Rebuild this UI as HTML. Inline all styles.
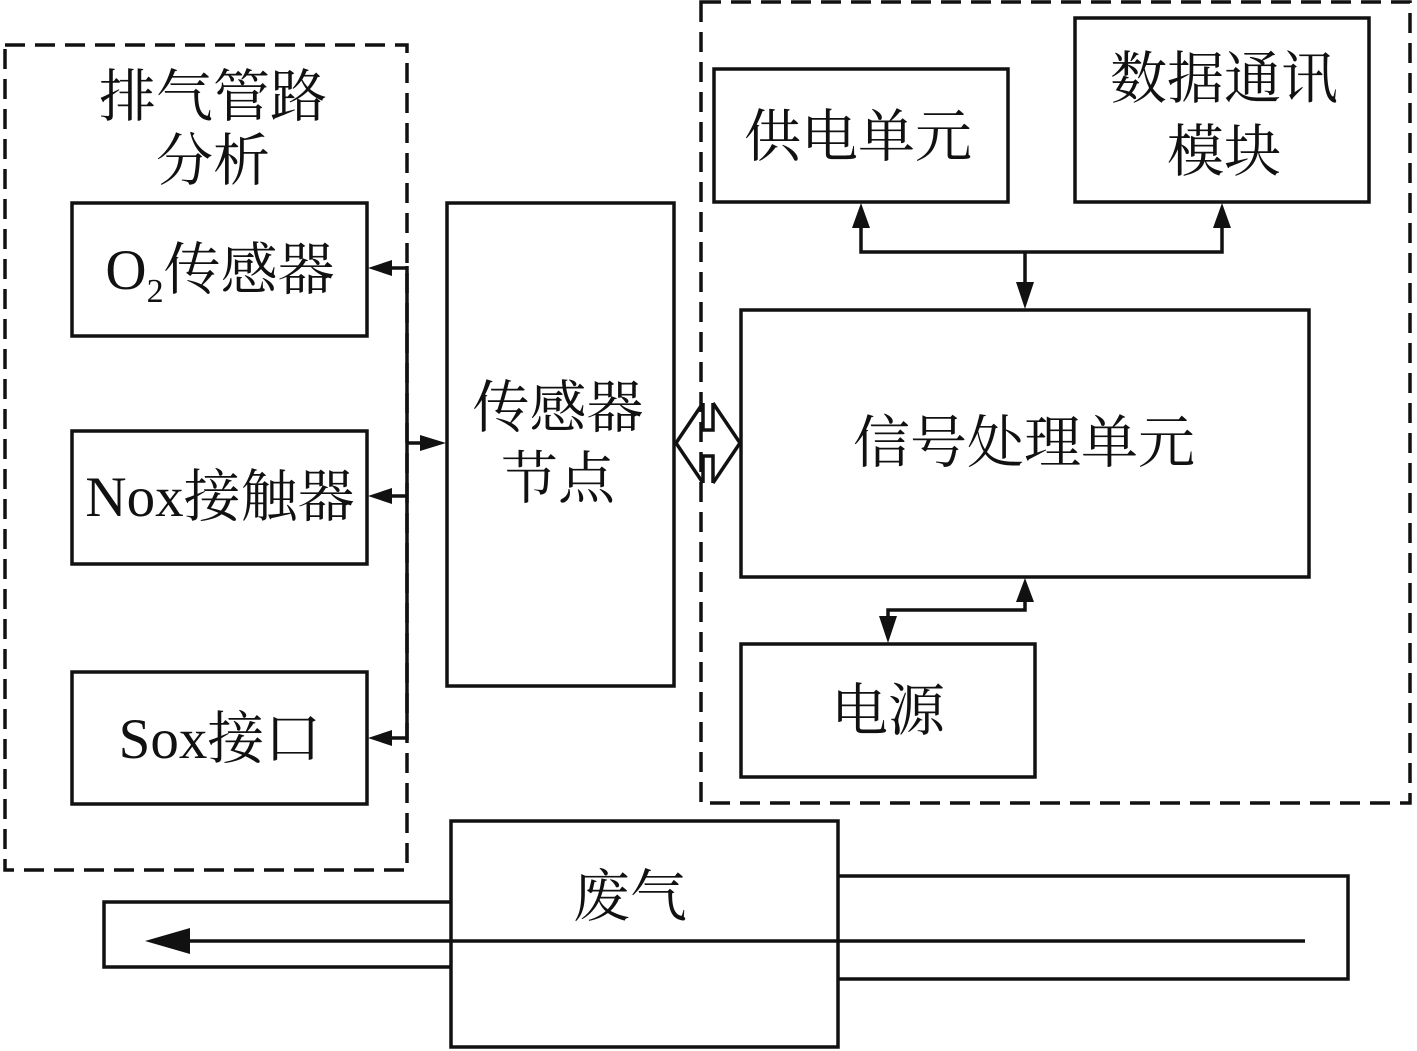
<!DOCTYPE html>
<html><head><meta charset="utf-8"><style>body{margin:0;background:#fff}svg{display:block}text{font-family:"Liberation Serif","Noto Serif CJK SC",serif;fill:#111}</style></head><body>
<svg width="1417" height="1051" viewBox="0 0 1417 1051" xmlns="http://www.w3.org/2000/svg">
<g fill="none" stroke="#111" stroke-width="3.5">
<rect x="5" y="45" width="402" height="825" stroke-dasharray="20,10"/>
<rect x="701" y="2" width="709" height="801" stroke-dasharray="20,10"/>
<rect x="72" y="203" width="295" height="133"/>
<rect x="72" y="431" width="295" height="133"/>
<rect x="72" y="672" width="295" height="132"/>
<rect x="447" y="203" width="227" height="483"/>
<rect x="714" y="69" width="294" height="133"/>
<rect x="1075" y="18" width="294" height="184"/>
<rect x="741" y="310" width="568" height="267"/>
<rect x="741" y="644" width="294" height="133"/>
<rect x="451" y="821" width="387" height="226"/>
<polyline points="451,902 104,902 104,967 451,967"/>
<polyline points="838,876 1348,876 1348,979 838,979"/>
<line x1="1305" y1="941" x2="180" y2="941"/>
<line x1="407" y1="266" x2="407" y2="740"/>
<line x1="407" y1="268" x2="385" y2="268"/>
<line x1="407" y1="496" x2="385" y2="496"/>
<line x1="407" y1="738" x2="385" y2="738"/>
<line x1="407" y1="443" x2="425" y2="443"/>
<polyline points="861,225 861,252 1222,252 1222,225"/>
<line x1="1025" y1="252" x2="1025" y2="285"/>
<polyline points="1025,590 1025,610 888,610 888,620"/>
<polyline points="703,403 676,443 703,483"/>
<polyline points="713,403 740,443 713,483"/>
<polyline points="703,403 703,430 713,430 713,403"/>
<polyline points="703,483 703,456 713,456 713,483"/>
</g>
<g fill="#111">
<polygon points="368,268 392,260 392,276"/>
<polygon points="368,496 392,488 392,504"/>
<polygon points="368,738 392,730 392,746"/>
<polygon points="446,443 420,435 420,451"/>
<polygon points="861,203 852,228 870,228"/>
<polygon points="1222,203 1213,228 1231,228"/>
<polygon points="1025,309 1016,282 1034,282"/>
<polygon points="1025,578 1016,602 1034,602"/>
<polygon points="888,643 879,616 897,616"/>
<polygon points="145,941 190,928 190,954"/>
</g>
<g font-size="57" text-anchor="middle">
<text x="213" y="116">排气管路</text>
<text x="213" y="180">分析</text>
<text x="220" y="289">O<tspan font-size="34" dy="13">2</tspan><tspan dy="-13">传感器</tspan></text>
<text x="220" y="516">Nox接触器</text>
<text x="220" y="758">Sox接口</text>
<text x="558" y="427">传感器</text>
<text x="558" y="498">节点</text>
<text x="858" y="156">供电单元</text>
<text x="1224" y="98">数据通讯</text>
<text x="1224" y="171">模块</text>
<text x="1024" y="462">信号处理单元</text>
<text x="888" y="730">电源</text>
<text x="630" y="916">废气</text>
</g>
</svg>
</body></html>
